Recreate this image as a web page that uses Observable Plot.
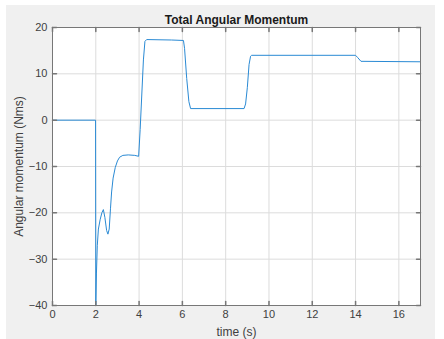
<!DOCTYPE html>
<html>
<head>
<meta charset="utf-8">
<script src="https://cdn.jsdelivr.net/npm/d3@7"></script>
<script src="https://cdn.jsdelivr.net/npm/@observablehq/plot@0.6"></script>
<style>
  html, body { margin: 0; padding: 0; background: #ffffff; }
  #bg { position: absolute; left: 6px; top: 5px; width: 429px; height: 334px; background: #f0f0f0; }
  #chart { position: absolute; left: 0; top: 0; }
  #chart svg { background: transparent !important; }
</style>
</head>
<body>
<div id="bg"></div>
<div id="chart"></div>
<script>
const title = "Total Angular Momentum";
const xLabel = "time (s)";
const yLabel = "Angular momentum (Nms)";
const xTicks = [0, 2, 4, 6, 8, 10, 12, 14, 16];
const yTicks = [-40, -30, -20, -10, 0, 10, 20];

const time = [0, 1.99, 2.0, 2.03, 2.07, 2.12, 2.2, 2.28, 2.35, 2.42, 2.5, 2.56, 2.62, 2.68, 2.73, 2.8, 2.9, 3.0, 3.1, 3.25, 3.5, 3.8, 3.98,
  4.05, 4.12, 4.2, 4.27, 4.35, 5.5, 6.05, 6.1, 6.2, 6.3, 6.38, 8.85, 8.92, 9.0, 9.08, 9.15, 9.2, 14.0, 14.1, 14.25, 17];
const momentum = [0, 0, -40, -33, -27, -23.5, -21.5, -20, -19.3, -21, -23.8, -24.6, -23.5, -19, -15.5, -12.5, -10.2, -8.8, -8, -7.6, -7.5, -7.6, -7.8,
  -2, 5, 13, 17, 17.4, 17.3, 17.2, 15.5, 9, 4, 2.5, 2.5, 3.5, 7, 12, 13.8, 14, 14, 13.5, 12.7, 12.6];

const data = time.map((t, i) => ({t, v: momentum[i]}));

const tickShape = {draw(ctx, l) { ctx.moveTo(0, 0); ctx.lineTo(0, -l); }};
const tickColor = "#777";
const font = "'Liberation Sans', Arial, sans-serif";

const chart = Plot.plot({
  width: 444,
  height: 339,
  marginLeft: 52,
  marginRight: 24,
  marginTop: 27,
  marginBottom: 34,
  style: {fontFamily: font, background: "transparent", color: "#404040"},
  x: {domain: [0, 17]},
  y: {domain: [-40, 20]},
  marks: [
    Plot.frame({fill: "white", stroke: null}),
    Plot.gridX(xTicks, {stroke: "#dcdcdc", strokeOpacity: 1}),
    Plot.gridY(yTicks, {stroke: "#dcdcdc", strokeOpacity: 1}),
    Plot.line(data, {x: "t", y: "v", stroke: "#2a8ad4", strokeWidth: 1}),
    Plot.frame({stroke: tickColor}),
    Plot.vector(xTicks, {x: d => d, frameAnchor: "bottom", length: 4, rotate: 0, anchor: "start", shape: tickShape, stroke: tickColor}),
    Plot.vector(xTicks, {x: d => d, frameAnchor: "top", length: 4, rotate: 180, anchor: "start", shape: tickShape, stroke: tickColor}),
    Plot.vector(yTicks, {y: d => d, frameAnchor: "left", length: 4, rotate: 90, anchor: "start", shape: tickShape, stroke: tickColor}),
    Plot.vector(yTicks, {y: d => d, frameAnchor: "right", length: 4, rotate: -90, anchor: "start", shape: tickShape, stroke: tickColor}),
    Plot.axisX(xTicks, {tickSize: 0, tickPadding: 5, fontSize: 11, label: xLabel, labelAnchor: "center", labelArrow: "none", labelOffset: 30}),
    Plot.axisY(yTicks, {tickSize: 0, tickPadding: 5, fontSize: 11, label: yLabel, labelAnchor: "center", labelArrow: "none", labelOffset: 38}),
    Plot.text([title], {frameAnchor: "top", dy: -12, fontWeight: "bold", fontSize: 12, fill: "#1a1a1a"})
  ]
});
chart.querySelectorAll("[aria-label$='axis label'] text").forEach(t => t.setAttribute("font-size", "12"));
document.getElementById("chart").append(chart);
</script>
</body>
</html>
